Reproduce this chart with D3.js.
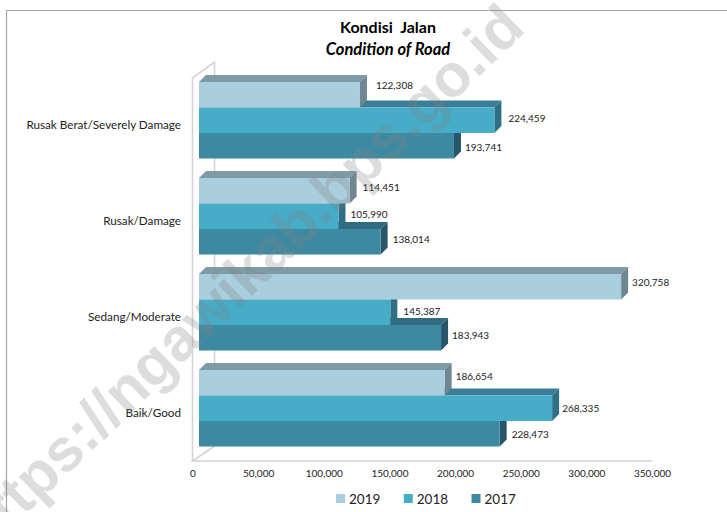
<!DOCTYPE html>
<html>
<head>
<meta charset="utf-8">
<script src="https://cdn.jsdelivr.net/npm/d3@7"></script>
<style>
    body { margin: 0; background: #fff; }
    svg { display: block; font-family: Lato, "Open Sans", sans-serif; }
    .tick text { font-size: 10px; fill: #222; font-family: Lato, sans-serif; }
</style>
</head>
<body>
<script>
var categories = ["Rusak Berat/Severely Damage", "Rusak/Damage", "Sedang/Moderate", "Baik/Good"];
var years = ["2019", "2018", "2017"];
var values2019 = [122308, 114451, 320758, 186654];
var values2018 = [224459, 105990, 145387, 268335];
var values2017 = [193741, 138014, 183943, 228473];
var xTicks = [0, 50000, 100000, 150000, 200000, 250000, 300000, 350000];

var width = 727,
    height = 512,
    depth = 7;

var seriesValues = { "2019": values2019, "2018": values2018, "2017": values2017 };
var front = { "2019": "#a9cedd", "2018": "#46acc8", "2017": "#3e89a2" };
var top3d = { "2019": "#7f9ba7", "2018": "#3a7f97", "2017": "#2f6c82" };
var side = { "2019": "#6f8792", "2018": "#2f6e85", "2017": "#27566a" };

// the data labels were dragged by hand in the original, so each has its own nudge
var labelNudgeX = { "2019": [9, 6, 4, 4], "2018": [7, 5, 6, 3], "2017": [4, 5, 4, 5] };
var labelNudgeY = { "2019": [-6, 0, -1, -3], "2018": [1, 1, 2, 3], "2017": [5, 1, 1, 4] };

var svg = d3.select("body").append("svg")
    .attr("width", width)
    .attr("height", height);

// frame, only top and left survive the crop
svg.append("path")
    .attr("d", "M6.5,512V10.5H727")
    .attr("fill", "none")
    .attr("stroke", "#a6a6a6")
    .attr("stroke-width", 1.2);

// value scale is for the front of the bars
var x = d3.scaleLinear().domain([0, 350000]).range([199, 199 + 460.6]);
// tick scale sits on the floor edge, a bit left of the bars
var xAxisScale = d3.scaleLinear().domain([0, 350000]).range([192.5, 652]);
var y = d3.scaleBand().domain(categories).range([72, 456]).paddingInner(0).paddingOuter(0);
var yInner = d3.scaleBand().domain(years).range([0, 76.5]);
var barTop = function (c) { return y(c) + 10; };

// 3d wall and floor
var wall = svg.append("g").attr("fill", "none").attr("stroke", "#d4d4d4").attr("stroke-width", 1.6);
wall.append("path").attr("d", "M192.5,461V78L214.5,62V446L192.5,461H652");

// bars, back ones first
["2017", "2018", "2019"].forEach(function (yr) {
    var g = svg.append("g").attr("class", "series-" + yr);
    var rows = categories.map(function (c, i) {
        return { c: c, v: seriesValues[yr][i], y0: barTop(c) + yInner(yr), h: yInner.bandwidth() };
    });

    g.selectAll("path.top").data(rows).enter().append("path")
        .attr("class", "top")
        .attr("fill", top3d[yr])
        .attr("d", function (d) {
            return "M" + x(0) + "," + d.y0 + "l" + depth + "," + (-depth) + "H" + (x(d.v) + depth) + "l" + (-depth) + "," + depth + "Z";
        });

    g.selectAll("path.side").data(rows).enter().append("path")
        .attr("class", "side")
        .attr("fill", side[yr])
        .attr("d", function (d) {
            return "M" + x(d.v) + "," + d.y0 + "l" + depth + "," + (-depth) + "v" + d.h + "l" + (-depth) + "," + depth + "Z";
        });

    g.selectAll("rect").data(rows).enter().append("rect")
        .attr("x", x(0))
        .attr("y", function (d) { return d.y0; })
        .attr("width", function (d) { return x(d.v) - x(0); })
        .attr("height", function (d) { return d.h; })
        .attr("fill", front[yr]);
});

// data labels
years.forEach(function (yr) {
    svg.append("g").selectAll("text")
        .data(categories.map(function (c, i) { return { c: c, i: i, v: seriesValues[yr][i] }; }))
        .enter().append("text")
        .attr("x", function (d) { return x(d.v) + depth + labelNudgeX[yr][d.i]; })
        .attr("y", function (d) { return barTop(d.c) + yInner(yr) + yInner.bandwidth() / 2 - 3 + labelNudgeY[yr][d.i]; })
        .attr("dy", "0.35em")
        .attr("font-size", 10)
        .attr("fill", "#222")
        .text(function (d) { return d3.format(",")(d.v); });
});

// category labels
svg.append("g").selectAll("text").data(categories).enter().append("text")
    .attr("x", 181)
    .attr("y", function (c) { return barTop(c) + 47; })
    .attr("text-anchor", "end")
    .attr("font-size", 11.7)
    .attr("fill", "#222")
    .text(function (c) { return c; });

// x axis
var axis = svg.append("g")
    .attr("transform", "translate(0,461)")
    .call(d3.axisBottom(xAxisScale).tickValues(xTicks).tickFormat(d3.format(",")).tickSize(0).tickPadding(9));
axis.select(".domain").remove();

// title
svg.append("text").attr("x", 388).attr("y", 33).attr("text-anchor", "middle")
    .attr("font-size", 16).attr("font-weight", 700).attr("fill", "#000")
    .style("white-space", "pre").text("Kondisi  Jalan");
svg.append("text").attr("x", 388).attr("y", 54.5).attr("text-anchor", "middle")
    .attr("font-size", 16.5).attr("font-weight", 700).attr("font-style", "italic").attr("fill", "#000")
    .text("Condition of Road");

// legend
var legendX = d3.scalePoint().domain(years).range([336, 471.5]);
var legend = svg.append("g").selectAll("g").data(years).enter().append("g")
    .attr("transform", function (d) { return "translate(" + legendX(d) + ",494)"; });
legend.append("rect").attr("width", 9).attr("height", 9).attr("fill", function (d) { return front[d]; });
legend.append("text").attr("x", 13).attr("y", 10).attr("font-size", 13.5).attr("fill", "#222")
    .text(function (d) { return d; });

// watermark on top of everything
svg.append("text")
    .attr("transform", "translate(255,293) rotate(-44)")
    .attr("text-anchor", "middle")
    .attr("font-family", "Liberation Sans, Arial, sans-serif")
    .attr("font-weight", 700)
    .attr("font-size", 60)
    .attr("fill", "#808080")
    .attr("fill-opacity", 0.27)
    .text("https://ngawikab.bps.go.id");
</script>
</body>
</html>
